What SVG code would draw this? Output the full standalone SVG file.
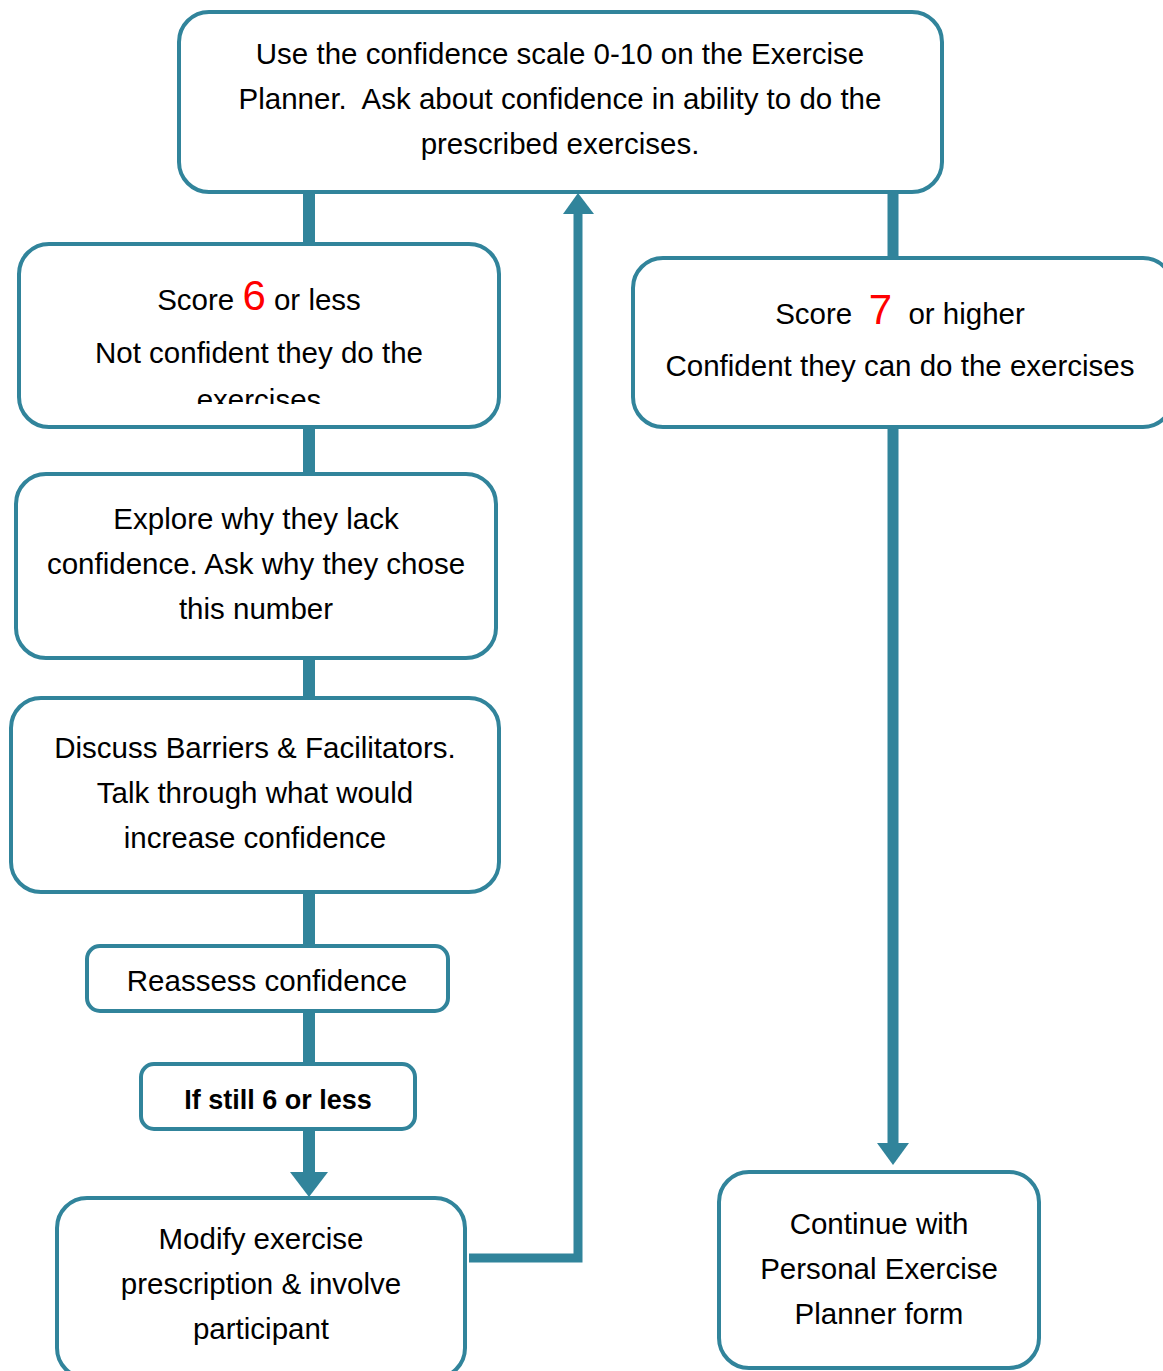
<svg xmlns="http://www.w3.org/2000/svg" width="1163" height="1371" viewBox="0 0 1163 1371">
  <style>
    .box { fill: #ffffff; stroke: #31849B; stroke-width: 4; }
    .line { stroke: #31849B; fill: none; }
    .head { fill: #31849B; }
    text { font-family: "Liberation Sans", Arial, sans-serif; font-size: 29.5px; fill: #000000; text-anchor: middle; }
    .num { fill: #FF0000; font-size: 42px; }
    .bold { font-weight: bold; font-size: 27px; }
  </style>
  <defs>
    <clipPath id="clipScoreLow">
      <rect x="20" y="246" width="478" height="158"/>
    </clipPath>
  </defs>

  <!-- connectors -->
  <g id="connectors">
    <line class="line" x1="309" y1="190" x2="309" y2="1174" stroke-width="12"/>
    <polygon class="head" points="290,1172 328,1172 309,1197"/>
    <line class="line" x1="893" y1="190" x2="893" y2="1146" stroke-width="11"/>
    <polygon class="head" points="877,1143 909,1143 893,1165"/>
    <polyline class="line" points="469,1258 578,1258 578,212" stroke-width="9"/>
    <polygon class="head" points="563,214 594,214 578,193"/>
  </g>

  <g id="start">
    <rect class="box" x="179" y="12" width="763" height="180" rx="30"/>
    <text x="560" y="64">Use the confidence scale 0-10 on the Exercise</text>
    <text x="560" y="109" xml:space="preserve">Planner.  Ask about confidence in ability to do the</text>
    <text x="560" y="154">prescribed exercises.</text>
  </g>

  <g id="score-low">
    <rect class="box" x="19" y="244" width="480" height="183" rx="30"/>
    <text x="259" y="310">Score <tspan class="num">6</tspan> or less</text>
    <g clip-path="url(#clipScoreLow)">
      <text x="259" y="363">Not confident they do the</text>
      <text x="259" y="410">exercises</text>
    </g>
  </g>

  <g id="score-high">
    <rect class="box" x="633" y="258" width="540" height="169" rx="30"/>
    <text x="900" y="324" xml:space="preserve">Score  <tspan class="num">7</tspan>  or higher</text>
    <text x="900" y="376">Confident they can do the exercises</text>
  </g>

  <g id="explore">
    <rect class="box" x="16" y="474" width="480" height="184" rx="30"/>
    <text x="256" y="529">Explore why they lack</text>
    <text x="256" y="574">confidence. Ask why they chose</text>
    <text x="256" y="619">this number</text>
  </g>

  <g id="discuss">
    <rect class="box" x="11" y="698" width="488" height="194" rx="30"/>
    <text x="255" y="758">Discuss Barriers &amp; Facilitators.</text>
    <text x="255" y="803">Talk through what would</text>
    <text x="255" y="848">increase confidence</text>
  </g>

  <g id="reassess">
    <rect class="box" x="87" y="946" width="361" height="65" rx="13"/>
    <text x="267" y="991">Reassess confidence</text>
  </g>

  <g id="still-low">
    <rect class="box" x="141" y="1064" width="274" height="65" rx="13"/>
    <text class="bold" x="278" y="1109">If still 6 or less</text>
  </g>

  <g id="modify">
    <rect class="box" x="57" y="1198" width="408" height="180" rx="30"/>
    <text x="261" y="1249">Modify exercise</text>
    <text x="261" y="1294">prescription &amp; involve</text>
    <text x="261" y="1339">participant</text>
  </g>

  <g id="continue">
    <rect class="box" x="719" y="1172" width="320" height="196" rx="30"/>
    <text x="879" y="1234">Continue with</text>
    <text x="879" y="1279">Personal Exercise</text>
    <text x="879" y="1324">Planner form</text>
  </g>
</svg>
